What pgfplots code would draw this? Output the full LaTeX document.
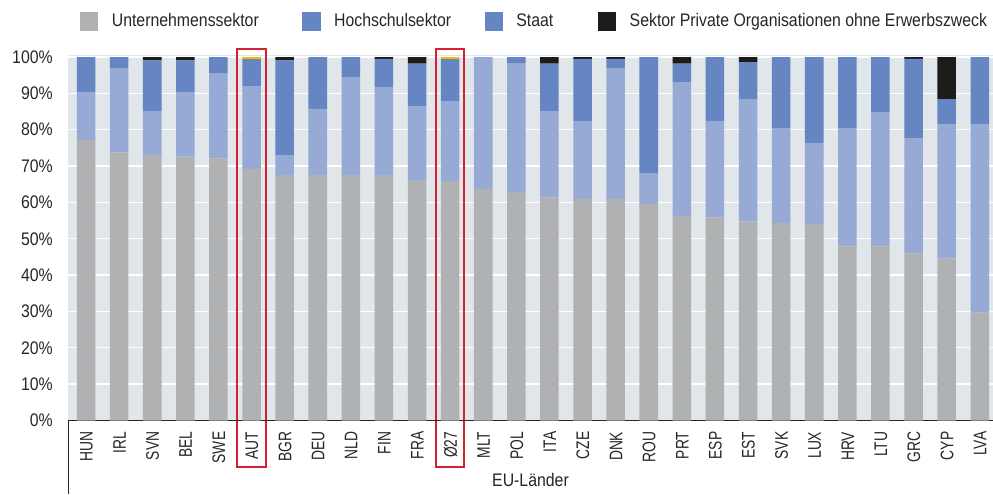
\documentclass[border=0pt]{standalone}
\usepackage{fontspec}
\setmainfont[FakeStretch=0.87]{Liberation Sans}
\newfontfamily\capsfont[FakeStretch=0.76]{Liberation Sans}
\usepackage{pgfplots}
\usepackage{pgfplotstable}
\pgfplotsset{compat=1.18}
\definecolor{cU}{HTML}{B0B1B3}
\definecolor{cH}{HTML}{97AAD6}
\definecolor{cS}{HTML}{6586C2}
\definecolor{cP}{HTML}{1C1C1A}
\definecolor{cY}{HTML}{F5B800}
\definecolor{bg}{HTML}{E1E6EA}
\definecolor{boxred}{HTML}{D42030}
\definecolor{txt}{HTML}{262626}
\newcommand\basefont{\fontsize{13.65pt}{16pt}\selectfont}
\pgfplotsset{
  sq/.style={legend image code/.code={\fill[#1] (0pt,-6.94pt) rectangle (13.875pt,6.94pt);}}
}
\pgfplotstableread{
x U H S P Y
0 77.2 13.2 9.6 0 0
1 73.8 23.0 3.2 0 0
2 73.0 12.1 14.0 0.9 0
3 72.6 17.8 8.7 0.9 0
4 72.1 23.3 4.6 0 0
5 69.2 22.8 7.4 0 0.6
6 67.5 5.5 26.1 0.9 0
7 67.5 18.2 14.3 0 0
8 67.5 27.0 5.5 0 0
9 67.5 24.2 7.8 0.5 0
10 66.1 20.4 11.7 1.8 0
11 65.9 22.0 11.5 0 0.6
12 63.7 36.3 0 0 0
13 62.8 35.4 1.8 0 0
14 61.4 23.7 13.1 1.8 0
15 60.9 21.5 17.1 0.5 0
16 60.9 35.9 2.7 0.5 0
17 59.6 8.3 32.1 0 0
18 56.3 36.8 5.1 1.8 0
19 55.9 26.5 17.6 0 0
20 54.8 33.6 10.2 1.4 0
21 54.4 26.1 19.5 0 0
22 54.0 22.3 23.7 0 0
23 47.9 32.6 19.5 0 0
24 47.9 36.8 15.3 0 0
25 46.0 31.7 21.8 0.5 0
26 44.6 37.0 6.8 11.6 0
27 29.7 51.9 18.4 0 0
}\data
\begin{document}
\begin{tikzpicture}[font=\basefont, text=txt]
\useasboundingbox (0,0) rectangle (744.75pt,370.5pt);
\begin{axis}[
  at={(51pt,55.125pt)}, anchor=south west,
  scale only axis, width=693.75pt, height=273.975pt,
  xmin=-0.545, xmax=27.4, ymin=0, ymax=100.5,
  ybar stacked, bar width=0.56,
  clip=false,
  axis background/.style={fill=bg},
  axis line style={draw=none},
  tick style={draw=none},
  ymajorgrids, grid style={white, line width=1pt},
  ytick={0,10,...,100},
  yticklabel={\pgfmathprintnumber{\tick}\%},
  /pgf/number format/assume math mode=true,
  yticklabel style={inner sep=0pt, anchor=east, font=\basefont, text=txt},
  yticklabel shift=11.25pt,
  xtick={0,...,27},
  xticklabels={HUN,IRL,SVN,BEL,SWE,AUT,BGR,DEU,NLD,FIN,FRA,Ø27,MLT,POL,ITA,CZE,DNK,ROU,PRT,ESP,EST,SVK,LUX,HRV,LTU,GRC,CYP,LVA},
  xticklabel style={rotate=90, anchor=east, inner sep=0pt, font=\basefont\capsfont, text=txt, text height=9.975pt, text depth=0pt},
  xticklabel shift=8.25pt,
  xlabel={EU-Länder},
  xlabel style={at={(axis description cs:0.5,-0.1793)}, anchor=base, inner sep=0pt, font=\basefont, text=txt},
  legend style={at={(axis description cs:0.01297,1.0928)}, anchor=west, draw=none, fill=none, inner sep=0pt, outer sep=0pt,
    legend columns=4, font=\basefont, text=txt,
    cells={anchor=west, inner sep=0pt, text height=9.975pt, text depth=0pt},
    /tikz/every odd column/.append style={column sep=8pt}},
]
\addplot[fill=cU, draw=none, sq=cU] table[x=x, y=U] {\data};
\addlegendentry{\makebox[140.85pt][l]{Unternehmenssektor}}
\addplot[fill=cH, draw=none, sq=cS] table[x=x, y=H] {\data};
\addlegendentry{\makebox[110.85pt][l]{Hochschulsektor}}
\addplot[fill=cS, draw=none, sq=cS] table[x=x, y=S] {\data};
\addlegendentry{\makebox[59.1pt][l]{Staat}}
\addplot[fill=cP, draw=none, sq=cP] table[x=x, y=P] {\data};
\addlegendentry{Sektor Private Organisationen ohne Erwerbszweck}
\addplot[fill=cY, draw=none, sq=cY] table[x=x, y=Y] {\data};
\draw[line width=0.75pt, color=txt] (rel axis cs:0,0) -- (rel axis cs:1,0);
\draw[line width=0.75pt, color=txt] (rel axis cs:0,0) -- (axis description cs:0,-0.2012);
\draw[draw=boxred, line width=1.5pt] (axis cs:4.574,-12.7) rectangle (axis cs:5.426,102.1);
\draw[draw=boxred, line width=1.5pt] (axis cs:10.574,-12.7) rectangle (axis cs:11.426,102.1);
\end{axis}
\end{tikzpicture}
\end{document}
